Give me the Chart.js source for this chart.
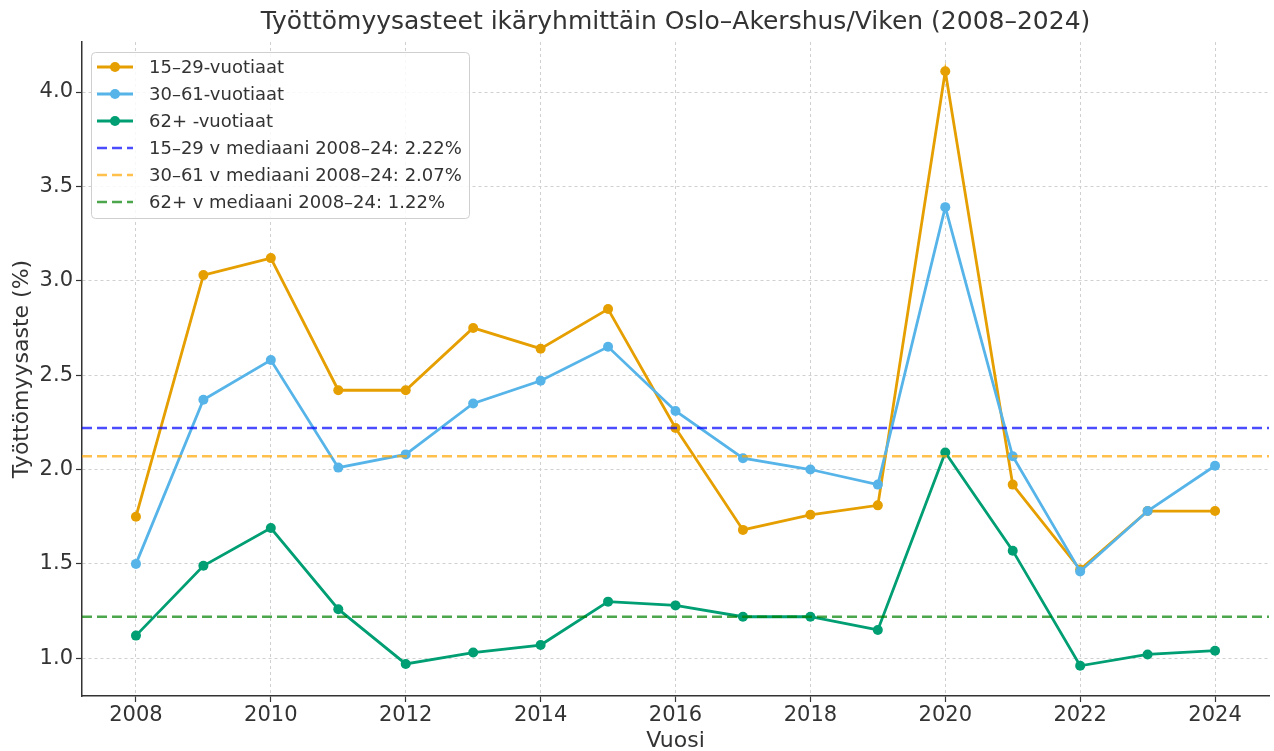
<!DOCTYPE html>
<html>
<head>
<meta charset="utf-8">
<script src="https://cdn.jsdelivr.net/npm/chart.js@4/dist/chart.umd.min.js"></script>
<style>
  body { margin: 0; background: #fff; }
  #wrap { width: 1274px; height: 751px; }
</style>
</head>
<body>
<div id="wrap"><canvas id="grafico"></canvas></div>
<script>
const vuodet = [2008, 2009, 2010, 2011, 2012, 2013, 2014, 2015, 2016, 2017, 2018, 2019, 2020, 2021, 2022, 2023, 2024];
const nuoret = [1.75, 3.03, 3.12, 2.42, 2.42, 2.75, 2.64, 2.85, 2.22, 1.68, 1.76, 1.81, 4.11, 1.92, 1.47, 1.78, 1.78];
const aikuiset = [1.50, 2.37, 2.58, 2.01, 2.08, 2.35, 2.47, 2.65, 2.31, 2.06, 2.00, 1.92, 3.39, 2.07, 1.46, 1.78, 2.02];
const vanhat = [1.12, 1.49, 1.69, 1.26, 0.97, 1.03, 1.07, 1.30, 1.28, 1.22, 1.22, 1.15, 2.09, 1.57, 0.96, 1.02, 1.04];
const mediaanit = [2.22, 2.07, 1.22];
const xTicks = [2008, 2010, 2012, 2014, 2016, 2018, 2020, 2022, 2024];
const yTicks = [1.0, 1.5, 2.0, 2.5, 3.0, 3.5, 4.0];

const otsikko = 'Työttömyysasteet ikäryhmittäin Oslo–Akershus/Viken (2008–2024)';
const xMin = 2007.2, xMax = 2024.8;
const fontti = "'DejaVu Sans', sans-serif";

function pisteet(arvot) {
  return vuodet.map((v, i) => ({ x: v, y: arvot[i] }));
}
function vaakaviiva(arvo) {
  return [{ x: xMin, y: arvo }, { x: xMax, y: arvo }];
}

function sarja(label, arvot, vari, order) {
  return {
    label: label,
    data: pisteet(arvot),
    borderColor: vari,
    backgroundColor: vari,
    pointBackgroundColor: vari,
    pointBorderColor: vari,
    pointRadius: 5,
    pointBorderWidth: 0,
    borderWidth: 2.8,
    tension: 0,
    order: order,
  };
}
function mediaani(label, arvo, vari, order) {
  return {
    label: label,
    data: vaakaviiva(arvo),
    borderColor: vari,
    borderWidth: 2.5,
    borderDash: [10, 5],
    pointRadius: 0,
    order: order,
  };
}

// otsikko keskitetään piirtoalueen mukaan, kuten matplotlibissa
const otsikkoPlugin = {
  id: 'otsikko',
  afterDraw(chart) {
    const ctx = chart.ctx;
    const a = chart.chartArea;
    ctx.save();
    ctx.fillStyle = '#333';
    ctx.font = '25px ' + fontti;
    ctx.textAlign = 'center';
    ctx.textBaseline = 'middle';
    ctx.fillText(otsikko, (a.left + a.right) / 2, 22);
    ctx.restore();
  }
};

// oma selite matplotlib-tyyliin
const selite = {
  id: 'selite',
  afterDatasetsDraw(chart) {
    const ctx = chart.ctx;
    const x0 = chart.chartArea.left + 9;
    const y0 = chart.chartArea.top + 10;
    const rivi = 27;
    ctx.save();
    ctx.fillStyle = 'rgba(255,255,255,0.85)';
    ctx.strokeStyle = '#cfcfcf';
    ctx.lineWidth = 1;
    ctx.beginPath();
    ctx.roundRect(x0 + 0.5, y0 + 0.5, 378, 166, 4);
    ctx.fill();
    ctx.stroke();
    chart.data.datasets.forEach((ds, i) => {
      const cy = y0 + 15 + i * rivi;
      ctx.strokeStyle = ds.borderColor;
      ctx.lineWidth = ds.borderWidth;
      ctx.setLineDash(ds.borderDash || []);
      ctx.beginPath();
      ctx.moveTo(x0 + 6, cy);
      ctx.lineTo(x0 + 42, cy);
      ctx.stroke();
      ctx.setLineDash([]);
      if (ds.pointRadius) {
        ctx.fillStyle = ds.borderColor;
        ctx.beginPath();
        ctx.arc(x0 + 24, cy, 5, 0, Math.PI * 2);
        ctx.fill();
      }
      ctx.fillStyle = '#333';
      ctx.font = '18px ' + fontti;
      ctx.textBaseline = 'middle';
      ctx.textAlign = 'left';
      ctx.fillText(ds.label, x0 + 58, cy + 1);
    });
    ctx.restore();
  }
};

const ruudukko = { color: '#d0d0d0', lineWidth: 1, tickColor: '#333', tickLength: 6, tickWidth: 1.2 };
const reuna = { color: '#333', width: 1.5, dash: [3, 3] };

const ctx = document.getElementById('grafico').getContext('2d');
new Chart(ctx, {
  type: 'line',
  data: {
    datasets: [
      sarja('15–29-vuotiaat', nuoret, '#E69F00', 6),
      sarja('30–61-vuotiaat', aikuiset, '#56B4E9', 5),
      sarja('62+ -vuotiaat', vanhat, '#009E73', 4),
      mediaani('15–29 v mediaani 2008–24: 2.22%', mediaanit[0], 'rgba(0,0,255,0.7)', 3),
      mediaani('30–61 v mediaani 2008–24: 2.07%', mediaanit[1], 'rgba(255,165,0,0.7)', 2),
      mediaani('62+ v mediaani 2008–24: 1.22%', mediaanit[2], 'rgba(0,128,0,0.7)', 1),
    ],
  },
  options: {
    responsive: true,
    maintainAspectRatio: false,
    animation: false,
    layout: { padding: { left: 5, right: 2, top: 42, bottom: 0 } },
    scales: {
      x: {
        type: 'linear',
        min: xMin,
        max: xMax,
        grid: ruudukko,
        border: reuna,
        afterBuildTicks: (s) => { s.ticks = xTicks.map(v => ({ value: v })); },
        afterFit: (s) => { s.height = 55; },
        ticks: {
          color: '#333',
          font: { family: fontti, size: 21 },
          padding: 1,
          maxRotation: 0,
          callback: (v) => String(v),
        },
        title: {
          display: true,
          text: 'Vuosi',
          color: '#333',
          font: { family: fontti, size: 22 },
          padding: { top: 4, bottom: -3 },
        },
      },
      y: {
        min: 0.8,
        max: 4.265,
        grid: ruudukko,
        border: reuna,
        afterBuildTicks: (s) => { s.ticks = yTicks.map(v => ({ value: v })); },
        afterFit: (s) => { s.width = 77; },
        ticks: {
          color: '#333',
          font: { family: fontti, size: 21 },
          padding: 3,
          callback: (v) => Number(v).toFixed(1),
        },
        title: {
          display: true,
          text: 'Työttömyysaste (%)',
          color: '#333',
          font: { family: fontti, size: 22 },
        },
      },
    },
    plugins: {
      legend: { display: false },
      tooltip: { enabled: false },
      title: { display: false },
    },
  },
  plugins: [selite, otsikkoPlugin],
});
</script>
</body>
</html>
